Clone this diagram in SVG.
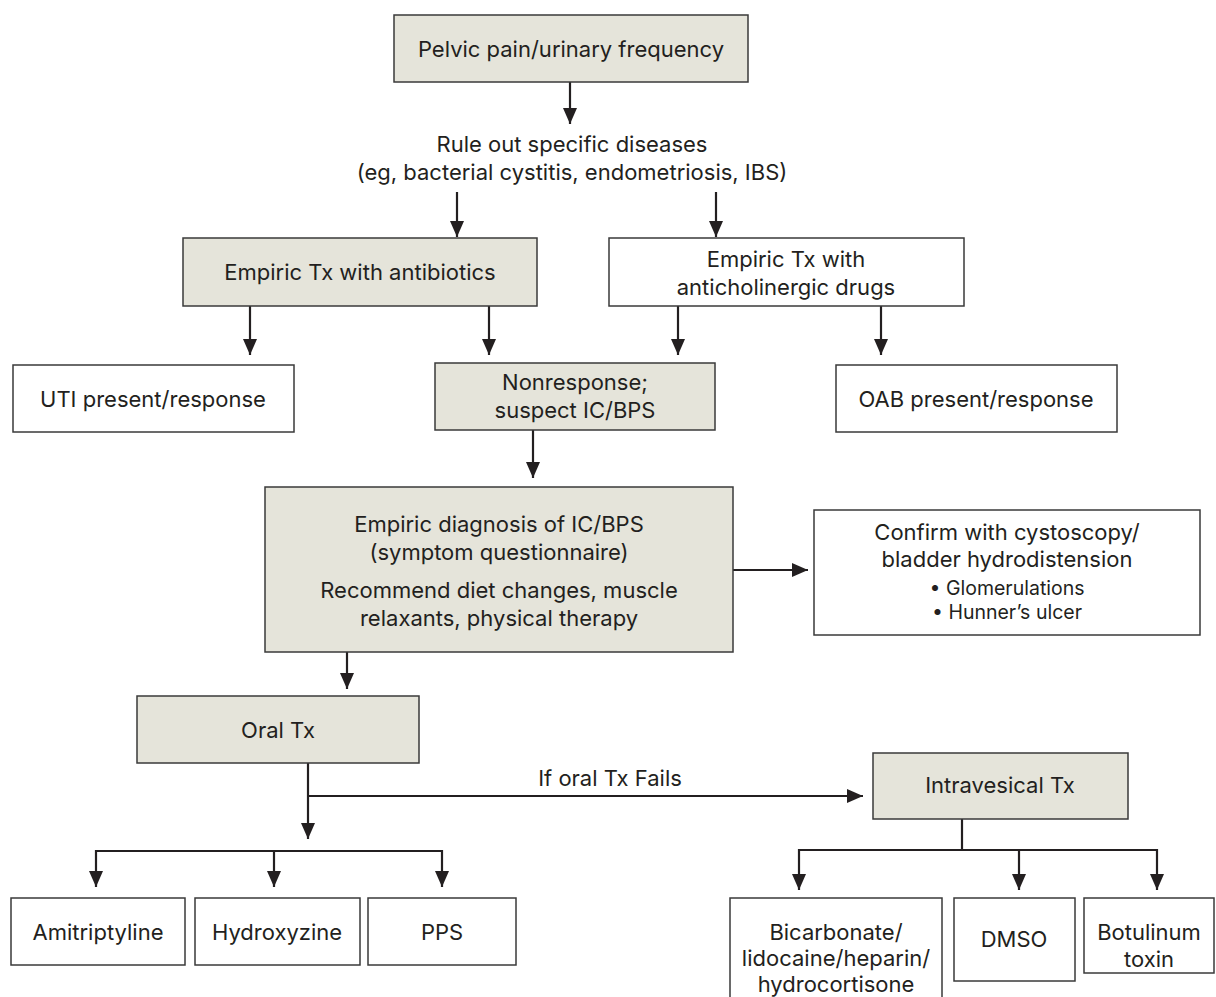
<svg xmlns="http://www.w3.org/2000/svg" width="1216" height="997" viewBox="0 0 1216 997">
<style>
.box{stroke:#3a3a3a;stroke-width:1.5}
.g{fill:#e5e4da}
.w{fill:#ffffff}
text{font-family:Inter,"Open Sans","Liberation Sans",sans-serif;font-size:22px;fill:#231f20;text-anchor:middle}
.s{font-size:19.5px}
.c{stroke:#231f20;stroke-width:2.2;fill:none}
</style>
<defs>
<marker id="ah" markerUnits="userSpaceOnUse" markerWidth="16" markerHeight="16" refX="16" refY="7" orient="auto" viewBox="0 0 16 14">
<path d="M0,0 L16,7 L0,14 z" fill="#231f20"/>
</marker>
</defs>
<rect width="1216" height="997" fill="#ffffff"/>
<g id="connectors">
<path class="c" d="M570,82 V124" marker-end="url(#ah)"/>
<path class="c" d="M457,192 V237" marker-end="url(#ah)"/>
<path class="c" d="M716,192 V237" marker-end="url(#ah)"/>
<path class="c" d="M250,306 V355" marker-end="url(#ah)"/>
<path class="c" d="M489,306 V355" marker-end="url(#ah)"/>
<path class="c" d="M678,306 V355" marker-end="url(#ah)"/>
<path class="c" d="M881,306 V355" marker-end="url(#ah)"/>
<path class="c" d="M533,430 V478" marker-end="url(#ah)"/>
<path class="c" d="M733,570 H808" marker-end="url(#ah)"/>
<path class="c" d="M347,652 V689" marker-end="url(#ah)"/>
<path class="c" d="M308,763 V839" marker-end="url(#ah)"/>
<path class="c" d="M308,796 H863" marker-end="url(#ah)"/>
<path class="c" d="M96,851 H442"/>
<path class="c" d="M96,850 V887" marker-end="url(#ah)"/>
<path class="c" d="M274,851 V887" marker-end="url(#ah)"/>
<path class="c" d="M442,850 V887" marker-end="url(#ah)"/>
<path class="c" d="M962,819 V850"/>
<path class="c" d="M799,850 H1157"/>
<path class="c" d="M799,849 V890" marker-end="url(#ah)"/>
<path class="c" d="M1019,850 V890" marker-end="url(#ah)"/>
<path class="c" d="M1157,849 V890" marker-end="url(#ah)"/>
<text x="610" y="786">If oral Tx Fails</text>
</g>
<g id="n-pelvic"><rect class="box g" x="394" y="15" width="354" height="67"/><text x="571" y="57">Pelvic pain/urinary frequency</text></g>
<g id="n-ruleout"><text x="572" y="152">Rule out specific diseases</text><text x="572" y="180">(eg, bacterial cystitis, endometriosis, IBS)</text></g>
<g id="n-abx"><rect class="box g" x="183" y="238" width="354" height="68"/><text x="360" y="280">Empiric Tx with antibiotics</text></g>
<g id="n-ach"><rect class="box w" x="609" y="238" width="355" height="68"/><text x="786" y="267">Empiric Tx with</text><text x="786" y="295">anticholinergic drugs</text></g>
<g id="n-uti"><rect class="box w" x="13" y="365" width="281" height="67"/><text x="153" y="407">UTI present/response</text></g>
<g id="n-nonresp"><rect class="box g" x="435" y="363" width="280" height="67"/><text x="575" y="390">Nonresponse;</text><text x="575" y="418">suspect IC/BPS</text></g>
<g id="n-oab"><rect class="box w" x="836" y="365" width="281" height="67"/><text x="976" y="407">OAB present/response</text></g>
<g id="n-empdx"><rect class="box g" x="265" y="487" width="468" height="165"/><text x="499" y="532">Empiric diagnosis of IC/BPS</text><text x="499" y="560">(symptom questionnaire)</text><text x="499" y="598">Recommend diet changes, muscle</text><text x="499" y="626">relaxants, physical therapy</text></g>
<g id="n-confirm"><rect class="box w" x="814" y="510" width="386" height="125"/><text x="1007" y="540">Confirm with cystoscopy/</text><text x="1007" y="567">bladder hydrodistension</text><text class="s" x="1007" y="595">• Glomerulations</text><text class="s" x="1007" y="619">• Hunner’s ulcer</text></g>
<g id="n-oral"><rect class="box g" x="137" y="696" width="282" height="67"/><text x="278" y="738">Oral Tx</text></g>
<g id="n-intra"><rect class="box g" x="873" y="753" width="255" height="66"/><text x="1000" y="793">Intravesical Tx</text></g>
<g id="n-ami"><rect class="box w" x="11" y="898" width="174" height="67"/><text x="98" y="940">Amitriptyline</text></g>
<g id="n-hyd"><rect class="box w" x="195" y="898" width="165" height="67"/><text x="277" y="940">Hydroxyzine</text></g>
<g id="n-pps"><rect class="box w" x="368" y="898" width="148" height="67"/><text x="442" y="940">PPS</text></g>
<g id="n-bicarb"><rect class="box w" x="730" y="898" width="212" height="112"/><text x="836" y="940">Bicarbonate/</text><text x="836" y="966">lidocaine/heparin/</text><text x="836" y="992">hydrocortisone</text></g>
<g id="n-dmso"><rect class="box w" x="954" y="898" width="121" height="83"/><text x="1014" y="947">DMSO</text></g>
<g id="n-botox"><rect class="box w" x="1084" y="898" width="130" height="75"/><text x="1149" y="940">Botulinum</text><text x="1149" y="967">toxin</text></g>
</svg>
